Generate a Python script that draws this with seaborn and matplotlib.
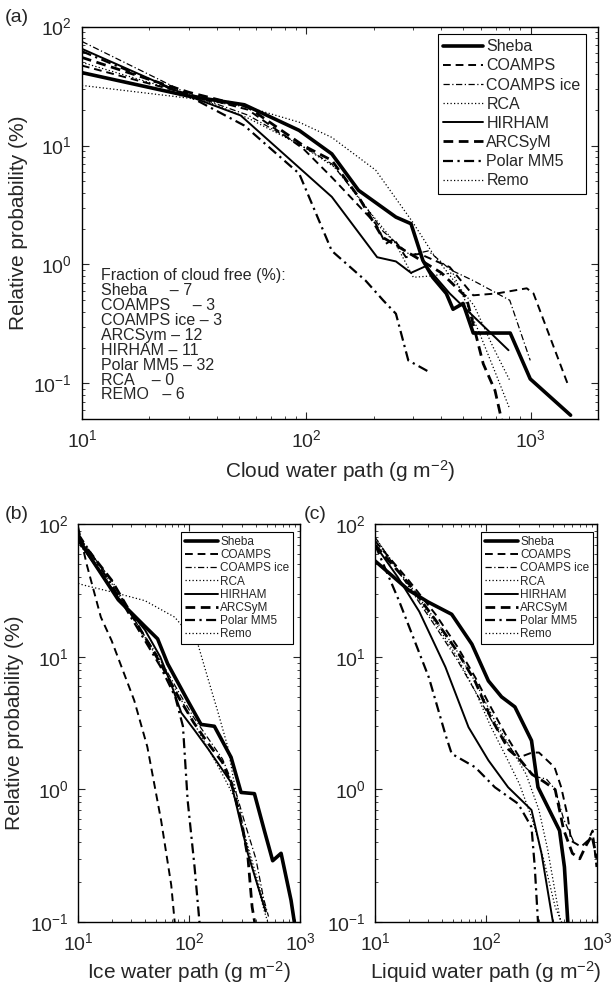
import numpy as np
import pandas as pd
import matplotlib
matplotlib.use("Agg")
import matplotlib.pyplot as plt
import seaborn as sns
from matplotlib.ticker import LogLocator, NullFormatter

models = ["Sheba", "COAMPS", "COAMPS ice", "RCA", "HIRHAM", "ARCSyM", "Polar MM5", "Remo"]

# (a) Cloud water path (g m-2) vs relative probability (%)
a_sheba_x = [10, 30, 53, 93, 130, 171, 251, 293, 331, 366, 421, 451, 500, 555, 811, 996, 1507]
a_sheba_y = [41, 26, 22, 13.4, 8.5, 4.2, 2.5, 2.2, 1.08, 0.78, 0.57, 0.42, 0.47, 0.265, 0.265, 0.109, 0.054]
a_coamps_x = [10, 30, 55, 97, 130, 204, 226, 246, 278, 319, 436, 555, 706, 961, 1030, 1481]
a_coamps_y = [47, 27, 20, 9.4, 5.4, 2.2, 1.49, 1.64, 1.15, 1.23, 0.95, 0.55, 0.57, 0.63, 0.57, 0.093]
a_coampsice_x = [10, 30, 55, 95, 130, 175, 220, 290, 350, 440, 556, 807, 996]
a_coampsice_y = [75, 27, 18, 10, 7.0, 3.5, 1.9, 1.2, 1.3, 0.9, 0.73, 0.5, 0.156]
a_rca_x = [10, 30, 55, 93, 130, 204, 298, 366, 450, 560, 682, 807]
a_rca_y = [32, 25, 21, 15.7, 11.7, 6.2, 2.27, 1.24, 0.75, 0.45, 0.2, 0.106]
a_hirham_x = [10, 30, 51, 130, 207, 251, 293, 342, 436, 797]
a_hirham_y = [65, 26, 17.9, 3.7, 1.15, 1.06, 0.85, 0.97, 0.57, 0.19]
a_arcsym_x = [10, 30, 55, 97, 130, 171, 218, 308, 400, 517, 615, 694, 743]
a_arcsym_y = [55, 28, 21, 10, 7.5, 3.7, 1.7, 1.15, 0.85, 0.53, 0.146, 0.087, 0.049]
a_polar_x = [10, 30, 53, 93, 130, 184, 220, 251, 285, 355]
a_polar_y = [62, 26, 14.7, 5.8, 1.3, 0.73, 0.5, 0.385, 0.156, 0.124]
a_remo_x = [10, 30, 55, 95, 135, 180, 250, 300, 360, 450, 594, 700, 807]
a_remo_y = [50, 27, 17, 10, 6.5, 3.2, 1.5, 0.78, 0.8, 0.85, 0.26, 0.12, 0.061]

# (b) Ice water path
b_sheba_x = [10, 23, 40, 52, 64, 97, 128, 169, 239, 294, 388, 477, 567, 675, 830, 889]
b_sheba_y = [78, 27, 17, 13.7, 8.9, 4.7, 3.1, 3.0, 1.75, 0.95, 0.93, 0.49, 0.29, 0.33, 0.146, 0.1]
b_coamps_x = [10, 12, 16, 20, 32, 42, 56, 69, 75]
b_coamps_y = [95, 49, 20, 13.3, 4.7, 2.1, 0.58, 0.19, 0.09]
b_coampsice_x = [10, 20, 35, 55, 80, 110, 150, 200, 260, 320, 400, 470, 520]
b_coampsice_y = [80, 38, 17, 9.5, 5.5, 3.5, 2.4, 1.7, 1.0, 0.55, 0.3, 0.15, 0.11]
b_rca_x = [10, 11, 20, 40, 74, 120, 147, 181, 223, 256, 315, 388, 478, 512]
b_rca_y = [36, 35, 31, 26.6, 20, 12.5, 7.0, 3.9, 2.1, 1.1, 0.46, 0.23, 0.12, 0.1]
b_hirham_x = [10, 23, 40, 55, 70, 85, 112, 150, 239, 338, 446, 490]
b_hirham_y = [75, 28, 16, 10, 6, 3.8, 2.8, 2.0, 1.13, 0.33, 0.155, 0.12]
b_arcsym_x = [10, 20, 35, 55, 80, 110, 150, 200, 250, 300, 340, 370, 390]
b_arcsym_y = [80, 38, 17, 9, 5, 3.2, 2.2, 1.6, 1.0, 0.55, 0.3, 0.13, 0.1]
b_polar_x = [10, 20, 35, 55, 75, 88, 97, 112, 124, 130]
b_polar_y = [85, 35, 16, 8.5, 5, 3, 0.83, 0.26, 0.1, 0.08]
b_remo_x = [10, 20, 35, 55, 80, 110, 150, 200, 260, 330, 420, 500]
b_remo_y = [72, 36, 17, 9, 5.2, 3.2, 2.0, 1.3, 0.85, 0.4, 0.2, 0.12]

# (c) Liquid water path
c_sheba_x = [10, 20, 30, 49, 74.5, 105, 138, 182, 257, 294, 460, 509, 546, 560]
c_sheba_y = [53, 32, 26, 21, 12.5, 6.6, 5.0, 4.2, 2.34, 1.04, 0.49, 0.26, 0.1, 0.09]
c_coamps_x = [10, 20, 35, 55, 80, 110, 150, 200, 260, 300, 415, 476, 546, 585, 719, 825, 914, 990]
c_coamps_y = [75, 38, 21, 12, 7, 4.2, 2.6, 1.75, 1.9, 1.9, 1.47, 1.04, 0.62, 0.41, 0.37, 0.41, 0.49, 0.26]
c_coampsice_x = [10, 20, 35, 55, 80, 120, 170, 220, 280, 350, 420, 500, 620]
c_coampsice_y = [80, 34, 17, 9.5, 5.5, 3.0, 2.0, 1.5, 1.25, 1.2, 1.0, 0.6, 0.4]
c_rca_x = [10, 20, 35, 55, 80, 120, 170, 230, 300, 360, 430, 470]
c_rca_y = [75, 36, 19, 11, 6.5, 3.3, 2.0, 1.3, 0.7, 0.35, 0.15, 0.1]
c_hirham_x = [10, 16, 25, 43, 69.5, 105, 158, 257, 316, 401, 420]
c_hirham_y = [70, 40, 22, 8.4, 2.95, 1.66, 1.04, 0.70, 0.33, 0.1, 0.09]
c_arcsym_x = [10, 20, 35, 55, 80, 110, 160, 200, 260, 330, 420, 500, 600, 700, 800, 900, 1000]
c_arcsym_y = [70, 36, 19, 11, 6.5, 3.5, 2.0, 1.7, 1.3, 1.15, 1.0, 0.5, 0.33, 0.3, 0.38, 0.45, 0.3]
c_polar_x = [10, 16.4, 30.5, 43, 49, 80, 120, 195, 257, 275, 294, 300]
c_polar_y = [70, 26.6, 7.0, 2.6, 1.86, 1.47, 1.04, 0.78, 0.52, 0.26, 0.1, 0.09]
c_remo_x = [10, 20, 35, 55, 80, 110, 150, 200, 260, 330, 420, 480]
c_remo_y = [80, 35, 18, 10, 5.5, 3.0, 1.8, 1.1, 0.6, 0.3, 0.13, 0.1]

cloud_free_text = ("Fraction of cloud free (%):\n"
                   "Sheba     \u2013 7\n"
                   "COAMPS     \u2013 3\n"
                   "COAMPS ice \u2013 3\n"
                   "ARCSym \u2013 12\n"
                   "HIRHAM \u2013 11\n"
                   "Polar MM5 \u2013 32\n"
                   "RCA    \u2013 0\n"
                   "REMO   \u2013 6")

line_styles = {
    "Sheba": dict(ls="-", lw=2.6),
    "COAMPS": dict(ls=(0, (4, 2.5)), lw=1.4),
    "COAMPS ice": dict(ls=(0, (5, 2, 1, 2)), lw=0.9),
    "RCA": dict(ls=(0, (1, 1.8)), lw=0.9),
    "HIRHAM": dict(ls="-", lw=1.4),
    "ARCSyM": dict(ls=(0, (3.5, 2)), lw=2.0),
    "Polar MM5": dict(ls=(0, (4.5, 2, 1, 2)), lw=1.6),
    "Remo": dict(ls=(0, (1, 1.8)), lw=0.9),
}

panel_a = {
    "Sheba": (a_sheba_x, a_sheba_y), "COAMPS": (a_coamps_x, a_coamps_y),
    "COAMPS ice": (a_coampsice_x, a_coampsice_y), "RCA": (a_rca_x, a_rca_y),
    "HIRHAM": (a_hirham_x, a_hirham_y), "ARCSyM": (a_arcsym_x, a_arcsym_y),
    "Polar MM5": (a_polar_x, a_polar_y), "Remo": (a_remo_x, a_remo_y),
}
panel_b = {
    "Sheba": (b_sheba_x, b_sheba_y), "COAMPS": (b_coamps_x, b_coamps_y),
    "COAMPS ice": (b_coampsice_x, b_coampsice_y), "RCA": (b_rca_x, b_rca_y),
    "HIRHAM": (b_hirham_x, b_hirham_y), "ARCSyM": (b_arcsym_x, b_arcsym_y),
    "Polar MM5": (b_polar_x, b_polar_y), "Remo": (b_remo_x, b_remo_y),
}
panel_c = {
    "Sheba": (c_sheba_x, c_sheba_y), "COAMPS": (c_coamps_x, c_coamps_y),
    "COAMPS ice": (c_coampsice_x, c_coampsice_y), "RCA": (c_rca_x, c_rca_y),
    "HIRHAM": (c_hirham_x, c_hirham_y), "ARCSyM": (c_arcsym_x, c_arcsym_y),
    "Polar MM5": (c_polar_x, c_polar_y), "Remo": (c_remo_x, c_remo_y),
}

sns.set_style("ticks")
plt.rcParams["font.family"] = ["Liberation Sans", "DejaVu Sans"]
plt.rcParams["mathtext.fontset"] = "custom"
plt.rcParams["mathtext.rm"] = "Liberation Sans"
plt.rcParams["mathtext.it"] = "Liberation Sans:italic"
plt.rcParams["mathtext.bf"] = "Liberation Sans:bold"
plt.rcParams["axes.linewidth"] = 1.0

fig = plt.figure(figsize=(6.11, 9.84), dpi=100)
ax_a = fig.add_axes([0.134, 0.574, 0.845, 0.399])
ax_b = fig.add_axes([0.128, 0.063, 0.363, 0.404])
ax_c = fig.add_axes([0.614, 0.063, 0.363, 0.404])


def draw_panel(ax, series):
    handles = []
    for m in models:
        x, y = series[m]
        df = pd.DataFrame({"x": x, "y": y})
        st = line_styles[m]
        sns.lineplot(data=df, x="x", y="y", ax=ax, color="black",
                     linewidth=st["lw"], linestyle=st["ls"], sort=False,
                     estimator=None, legend=False)
        handles.append(ax.lines[-1])
    ax.set_xscale("log")
    ax.set_yscale("log")
    ax.tick_params(which="both", direction="in", top=True, right=True)
    ax.tick_params(which="major", length=5, width=0.8, labelsize=14, pad=7)
    ax.tick_params(which="minor", length=2.5, width=0.6)
    for axis in (ax.xaxis, ax.yaxis):
        axis.set_major_locator(LogLocator(base=10, numticks=10))
        axis.set_minor_locator(LogLocator(base=10, subs=np.arange(2, 10), numticks=20))
        axis.set_minor_formatter(NullFormatter())
    for s in ax.spines.values():
        s.set_visible(True)
        s.set_color("black")
    return handles


h_a = draw_panel(ax_a, panel_a)
ax_a.set_xlim(10, 2000)
ax_a.set_ylim(0.05, 100)
ax_a.set_xlabel("Cloud water path (g m$^{-2}$)", fontsize=15, labelpad=5)
ax_a.set_ylabel("Relative probability (%)", fontsize=15, labelpad=4)
leg = ax_a.legend(h_a, models, loc="upper right", bbox_to_anchor=(0.977, 0.982),
                  borderaxespad=0, fontsize=11.5, frameon=True, fancybox=False,
                  edgecolor="black", framealpha=1, handlelength=2.5,
                  handletextpad=0.2, labelspacing=0.26, borderpad=0.35)
leg.get_frame().set_linewidth(0.8)
ax_a.text(0.037, 0.384, cloud_free_text, transform=ax_a.transAxes, va="top",
          ha="left", fontsize=11.5, linespacing=0.99)

h_b = draw_panel(ax_b, panel_b)
h_c = draw_panel(ax_c, panel_c)
for ax, hs, lab, anchor in ((ax_b, h_b, "Ice water path (g m$^{-2}$)", (0.968, 0.98)),
                            (ax_c, h_c, "Liquid water path (g m$^{-2}$)", (0.982, 0.98))):
    ax.set_xlim(10, 1000)
    ax.set_ylim(0.1, 100)
    ax.set_xlabel(lab, fontsize=15, labelpad=4)
    lg = ax.legend(hs, models, loc="upper right", bbox_to_anchor=anchor,
                   borderaxespad=0, fontsize=8.5, frameon=True, fancybox=False,
                   edgecolor="black", framealpha=1, handlelength=2.8,
                   handletextpad=0.2, labelspacing=0.1, borderpad=0.3)
    lg.get_frame().set_linewidth(0.8)
ax_b.set_ylabel("Relative probability (%)", fontsize=15, labelpad=4)
ax_c.set_ylabel("")

fig.text(0.008, 0.982, "(a)", fontsize=14, va="center", ha="left")
fig.text(0.008, 0.477, "(b)", fontsize=14, va="center", ha="left")
fig.text(0.497, 0.477, "(c)", fontsize=14, va="center", ha="left")

fig.savefig("out.png", dpi=100)
